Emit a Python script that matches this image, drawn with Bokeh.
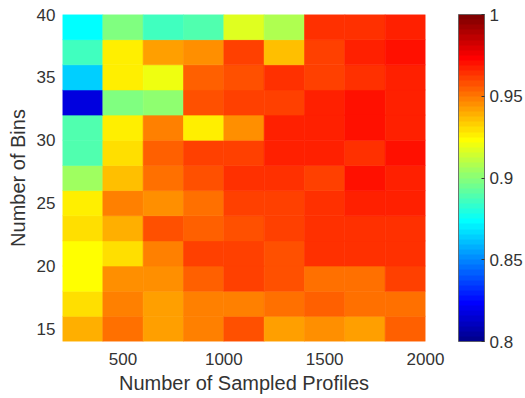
import numpy as np
from bokeh.plotting import figure
from bokeh.models import LinearColorMapper, ColorBar, FixedTicker, ColumnDataSource
from bokeh.transform import transform
from bokeh.embed import file_html
from bokeh.resources import INLINE

# Column edges: number of sampled profiles; row edges: number of bins
profile_edges = [200, 400, 600, 800, 1000, 1200, 1400, 1600, 1800, 2000]
bin_edges = [14, 16, 18, 20, 22, 24, 26, 28, 30, 32, 34, 36, 38, 40]

# Values per bin row (lower edge), left to right across profiles
bins_38 = [0.873, 0.898, 0.887, 0.889, 0.917, 0.908, 0.964, 0.964, 0.967]
bins_36 = [0.886, 0.927, 0.942, 0.945, 0.961, 0.936, 0.961, 0.967, 0.970]
bins_34 = [0.864, 0.927, 0.920, 0.955, 0.958, 0.964, 0.961, 0.964, 0.967]
bins_32 = [0.818, 0.898, 0.902, 0.958, 0.961, 0.961, 0.967, 0.970, 0.967]
bins_30 = [0.889, 0.927, 0.948, 0.927, 0.945, 0.967, 0.967, 0.970, 0.967]
bins_28 = [0.889, 0.930, 0.955, 0.961, 0.961, 0.967, 0.967, 0.964, 0.970]
bins_26 = [0.905, 0.936, 0.952, 0.958, 0.964, 0.964, 0.961, 0.970, 0.967]
bins_24 = [0.927, 0.948, 0.945, 0.952, 0.961, 0.961, 0.964, 0.967, 0.967]
bins_22 = [0.930, 0.939, 0.958, 0.955, 0.958, 0.961, 0.964, 0.964, 0.964]
bins_20 = [0.923, 0.929, 0.948, 0.961, 0.961, 0.958, 0.964, 0.964, 0.964]
bins_18 = [0.923, 0.945, 0.945, 0.955, 0.961, 0.958, 0.952, 0.952, 0.961]
bins_16 = [0.930, 0.948, 0.942, 0.948, 0.948, 0.952, 0.955, 0.952, 0.952]
bins_14 = [0.939, 0.952, 0.942, 0.948, 0.958, 0.942, 0.945, 0.942, 0.955]

rows = [bins_14, bins_16, bins_18, bins_20, bins_22, bins_24, bins_26,
        bins_28, bins_30, bins_32, bins_34, bins_36, bins_38]

x_ticks = [500, 1000, 1500, 2000]
y_ticks = [15, 20, 25, 30, 35, 40]
cbar_ticks = [0.8, 0.85, 0.9, 0.95, 1.0]
cbar_labels = ["0.8", "0.85", "0.9", "0.95", "1"]

# MATLAB jet(64) colormap
def matlab_jet(m=64):
    n = int(np.ceil(m / 4))
    u = np.concatenate([np.arange(1, n + 1) / n, np.ones(n - 1), np.arange(n, 0, -1) / n])
    g = int(np.ceil(n / 2)) - (1 if m % 4 == 1 else 0) + np.arange(1, len(u) + 1)
    r = g + n
    b = g - n
    r = r[r <= m]
    b = b[b >= 1]
    J = np.zeros((m, 3))
    J[r - 1, 0] = u[:len(r)]
    J[g - 1, 1] = u
    J[b - 1, 2] = u[len(u) - len(b):]
    return ["#%02x%02x%02x" % tuple(int(round(c * 255)) for c in row) for row in J]

palette = matlab_jet(64)
mapper = LinearColorMapper(palette=palette, low=0.8, high=1.0)

left, right, bottom, top, val = [], [], [], [], []
for j, row in enumerate(rows):
    for i, v in enumerate(row):
        left.append(profile_edges[i])
        right.append(profile_edges[i + 1])
        bottom.append(bin_edges[j])
        top.append(bin_edges[j + 1])
        val.append(v)
src = ColumnDataSource(dict(left=left, right=right, bottom=bottom, top=top, val=val))

FONT = "Liberation Sans"
TXT = "#333333"

p = figure(frame_width=363, frame_height=327,
           x_range=(profile_edges[0], profile_edges[-1]),
           y_range=(bin_edges[0], bin_edges[-1]),
           output_backend="svg", toolbar_location=None,
           min_border_left=62, min_border_top=14, min_border_bottom=57,
           min_border_right=100)

p.quad(left="left", right="right", bottom="bottom", top="top", source=src,
       fill_color=transform("val", mapper), line_color=transform("val", mapper),
       line_width=0.6)

p.outline_line_color = None
p.grid.visible = False
p.background_fill_color = "white"

p.xaxis.ticker = FixedTicker(ticks=x_ticks)
p.yaxis.ticker = FixedTicker(ticks=y_ticks)
for ax in (p.xaxis[0], p.yaxis[0]):
    ax.axis_line_color = None
    ax.major_tick_line_color = None
    ax.minor_tick_line_color = None
    ax.major_tick_out = 0
    ax.major_tick_in = 0
    ax.minor_tick_out = 0
    ax.minor_tick_in = 0
    ax.major_label_text_font = FONT
    ax.major_label_text_font_size = "17px"
    ax.major_label_text_color = TXT
    ax.axis_label_text_font = FONT
    ax.axis_label_text_font_size = "20px"
    ax.axis_label_text_font_style = "normal"
    ax.axis_label_text_color = TXT
p.xaxis.axis_label = "Number of Sampled Profiles"
p.yaxis.axis_label = "Number of Bins"
p.xaxis.major_label_standoff = 11
p.xaxis.axis_label_standoff = 4
p.yaxis.major_label_standoff = 7
p.yaxis.axis_label_standoff = 5

cb = ColorBar(color_mapper=mapper, location=(33, 0), width=26, height=327,
              margin=0, padding=0,
              ticker=FixedTicker(ticks=cbar_ticks),
              major_label_overrides=dict(zip(cbar_ticks, cbar_labels)),
              major_label_text_font=FONT, major_label_text_font_size="17px",
              major_label_text_color=TXT, label_standoff=5,
              major_tick_line_color="#333333", major_tick_in=3, major_tick_out=0,
              bar_line_color="#555555", bar_line_width=0.8,
              border_line_color=None, background_fill_alpha=0)
p.add_layout(cb, "right")

open("out.html", "w").write(file_html(p, INLINE))
